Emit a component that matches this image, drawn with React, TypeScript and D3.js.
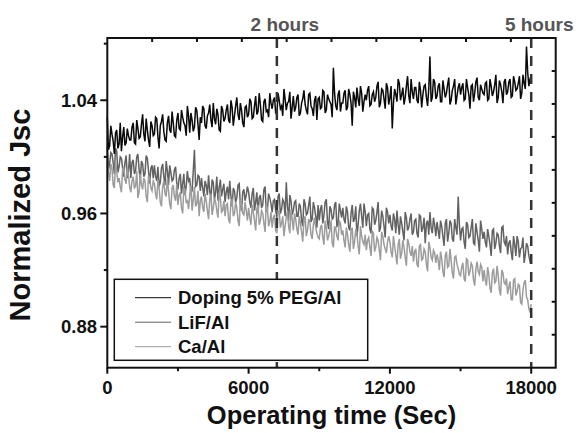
import * as d3 from "d3";

// readings every 100 s (t = 0, 100, ..., 18000)
const TIME_STEP = 100;

const dopingValues = [
  1.028, 1.008, 1.016, 1.002, 1.019, 1.009, 1.004, 1.021, 1.010, 1.015,
  1.012, 1.024, 1.009, 1.020, 1.014, 1.030, 1.011, 1.019, 1.007, 1.022,
  1.016, 1.027, 1.006, 1.025, 1.018, 1.011, 1.029, 1.017, 1.024, 1.014,
  1.031, 1.019, 1.028, 1.022, 1.036, 1.017, 1.026, 1.021, 1.033, 1.012,
  1.024, 1.034, 1.020, 1.031, 1.026, 1.038, 1.023, 1.030, 1.018, 1.033,
  1.027, 1.037, 1.024, 1.035, 1.029, 1.042, 1.026, 1.033, 1.021, 1.036,
  1.030, 1.039, 1.028, 1.043, 1.032, 1.037, 1.025, 1.041, 1.033, 1.045,
  1.034, 1.042, 1.030, 1.040, 1.036, 1.048, 1.033, 1.039, 1.027, 1.043,
  1.035, 1.044, 1.031, 1.041, 1.037, 1.030, 1.045, 1.034, 1.040, 1.026,
  1.042, 1.035, 1.046, 1.033, 1.041, 1.037, 1.063, 1.036, 1.044, 1.032,
  1.038, 1.047, 1.035, 1.044, 1.022, 1.042, 1.049, 1.036, 1.045, 1.039,
  1.040, 1.050, 1.037, 1.046, 1.042, 1.053, 1.038, 1.047, 1.034, 1.049,
  1.042, 1.020, 1.048, 1.039, 1.052, 1.044, 1.037, 1.050, 1.043, 1.055,
  1.041, 1.049, 1.038, 1.047, 1.044, 1.051, 1.036, 1.071, 1.042, 1.053,
  1.043, 1.052, 1.039, 1.048, 1.045, 1.056, 1.040, 1.050, 1.037, 1.049,
  1.044, 1.052, 1.041, 1.049, 1.034, 1.051, 1.045, 1.056, 1.040, 1.048,
  1.044, 1.053, 1.041, 1.050, 1.046, 1.058, 1.042, 1.051, 1.038, 1.055,
  1.046, 1.055, 1.043, 1.053, 1.048, 1.057, 1.045, 1.052, 1.078, 1.050,
  1.054,
];
// readings in between (t = 50, 150, ..., 17950)
const dopingMid = [
  1.005, 1.022, 1.011, 1.017, 1.006, 1.024, 1.014, 1.008, 1.020, 1.012,
  1.021, 1.010, 1.026, 1.013, 1.023, 1.016, 1.027, 1.012, 1.025, 1.015,
  1.028, 1.014, 1.022, 1.030, 1.012, 1.024, 1.019, 1.032, 1.015, 1.026,
  1.020, 1.033, 1.024, 1.015, 1.029, 1.031, 1.018, 1.035, 1.023, 1.028,
  1.036, 1.022, 1.029, 1.037, 1.021, 1.027, 1.034, 1.019, 1.036, 1.025,
  1.033, 1.026, 1.040, 1.022, 1.036, 1.030, 1.038, 1.024, 1.035, 1.028,
  1.041, 1.027, 1.036, 1.030, 1.045, 1.026, 1.039, 1.032, 1.028, 1.038,
  1.040, 1.031, 1.045, 1.034, 1.029, 1.041, 1.038, 1.046, 1.035, 1.032,
  1.042, 1.029, 1.038, 1.047, 1.033, 1.044, 1.036, 1.029, 1.043, 1.041,
  1.034, 1.047, 1.031, 1.044, 1.039, 1.028, 1.045, 1.033, 1.047, 1.038,
  1.045, 1.033, 1.048, 1.038, 1.046, 1.035, 1.041, 1.050, 1.032, 1.044,
  1.047, 1.036, 1.044, 1.039, 1.050, 1.035, 1.048, 1.041, 1.052, 1.037,
  1.050, 1.038, 1.044, 1.055, 1.040, 1.049, 1.042, 1.057, 1.038, 1.046,
  1.049, 1.040, 1.053, 1.035, 1.050, 1.042, 1.048, 1.039, 1.055, 1.041,
  1.050, 1.039, 1.054, 1.042, 1.051, 1.037, 1.047, 1.055, 1.043, 1.052,
  1.049, 1.040, 1.055, 1.044, 1.050, 1.039, 1.053, 1.042, 1.051, 1.045,
  1.052, 1.040, 1.055, 1.043, 1.051, 1.038, 1.054, 1.046, 1.053, 1.044,
  1.053, 1.042, 1.057, 1.047, 1.052, 1.041, 1.058, 1.048, 1.060, 1.055,
];

const lifValues = [
  1.007, 0.995, 1.002, 0.988, 1.004, 0.993, 0.999, 0.986, 1.001, 0.990,
  0.985, 0.998, 0.990, 1.002, 0.984, 0.995, 0.988, 0.999, 0.981, 0.994,
  0.994, 0.983, 0.979, 0.992, 0.986, 0.997, 0.980, 0.989, 0.984, 0.993,
  0.977, 0.988, 0.981, 0.973, 0.990, 0.985, 0.976, 1.005, 0.980, 0.986,
  0.985, 0.972, 0.980, 0.987, 0.970, 0.982, 0.975, 0.969, 0.984, 0.977,
  0.968, 0.979, 0.983, 0.965, 0.976, 0.971, 0.981, 0.962, 0.977, 0.973,
  0.975, 0.964, 0.978, 0.968, 0.960, 0.973, 0.966, 0.979, 0.963, 0.971,
  0.961, 0.970, 0.957, 0.974, 0.963, 0.968, 0.982, 0.955, 0.969, 0.962,
  0.969, 0.958, 0.965, 0.951, 0.967, 0.960, 0.972, 0.956, 0.964, 0.950,
  0.955, 0.966, 0.959, 0.970, 0.949, 0.963, 0.957, 0.968, 0.952, 0.962,
  0.964, 0.953, 0.961, 0.948, 0.966, 0.956, 0.944, 0.962, 0.958, 0.967,
  0.951, 0.960, 0.946, 0.963, 0.955, 0.968, 0.950, 0.958, 0.943, 0.961,
  0.959, 0.948, 0.956, 0.962, 0.945, 0.953, 0.941, 0.957, 0.950, 0.960,
  0.947, 0.956, 0.943, 0.958, 0.950, 0.939, 0.955, 0.961, 0.946, 0.952,
  0.954, 0.942, 0.951, 0.937, 0.956, 0.946, 0.953, 0.940, 0.950, 0.972,
  0.941, 0.950, 0.935, 0.952, 0.944, 0.956, 0.938, 0.947, 0.933, 0.949,
  0.947, 0.936, 0.944, 0.930, 0.949, 0.939, 0.945, 0.932, 0.951, 0.938,
  0.931, 0.941, 0.927, 0.938, 0.944, 0.929, 0.936, 0.925, 0.939, 0.930,
  0.928,
];
const lifMid = [
  0.991, 1.003, 0.996, 1.006, 0.989, 1.000, 0.992, 0.996, 0.985, 1.002,
  0.996, 0.988, 1.000, 0.991, 0.997, 0.986, 1.001, 0.990, 0.992, 0.985,
  0.986, 0.993, 0.982, 0.995, 0.980, 0.990, 0.994, 0.983, 0.991, 0.981,
  0.985, 0.974, 0.988, 0.979, 0.983, 0.974, 0.990, 0.979, 0.987, 0.976,
  0.978, 0.983, 0.973, 0.976, 0.984, 0.970, 0.986, 0.978, 0.972, 0.981,
  0.975, 0.970, 0.972, 0.978, 0.968, 0.980, 0.966, 0.975, 0.969, 0.979,
  0.968, 0.974, 0.962, 0.975, 0.971, 0.964, 0.977, 0.961, 0.974, 0.967,
  0.969, 0.962, 0.972, 0.960, 0.970, 0.958, 0.965, 0.973, 0.959, 0.968,
  0.958, 0.967, 0.955, 0.970, 0.959, 0.966, 0.954, 0.968, 0.958, 0.966,
  0.963, 0.953, 0.968, 0.954, 0.965, 0.956, 0.966, 0.951, 0.967, 0.957,
  0.956, 0.965, 0.950, 0.960, 0.954, 0.965, 0.952, 0.967, 0.950, 0.961,
  0.959, 0.949, 0.964, 0.952, 0.961, 0.947, 0.962, 0.951, 0.964, 0.953,
  0.951, 0.960, 0.946, 0.952, 0.958, 0.947, 0.961, 0.948, 0.956, 0.945,
  0.955, 0.946, 0.959, 0.947, 0.957, 0.953, 0.945, 0.950, 0.957, 0.944,
  0.948, 0.955, 0.944, 0.953, 0.940, 0.955, 0.942, 0.956, 0.945, 0.952,
  0.949, 0.940, 0.954, 0.943, 0.950, 0.939, 0.953, 0.941, 0.955, 0.942,
  0.940, 0.949, 0.938, 0.948, 0.935, 0.946, 0.937, 0.950, 0.940, 0.944,
  0.939, 0.933, 0.944, 0.930, 0.940, 0.935, 0.943, 0.931, 0.937, 0.926,
];

const caValues = [
  0.996, 0.983, 0.992, 0.978, 0.990, 0.985, 0.975, 0.993, 0.981, 0.987,
  0.975, 0.986, 0.979, 0.971, 0.988, 0.977, 0.983, 0.968, 0.985, 0.976,
  0.981, 0.970, 0.978, 0.965, 0.983, 0.972, 0.976, 0.963, 0.980, 0.969,
  0.966, 0.975, 0.960, 0.977, 0.969, 0.973, 0.962, 0.979, 0.967, 0.958,
  0.972, 0.961, 0.969, 0.956, 0.974, 0.964, 0.968, 0.957, 0.971, 0.962,
  0.958, 0.967, 0.953, 0.970, 0.960, 0.964, 0.951, 0.966, 0.959, 0.962,
  0.964, 0.952, 0.961, 0.948, 0.966, 0.955, 0.960, 0.947, 0.963, 0.954,
  0.950, 0.959, 0.946, 0.962, 0.953, 0.944, 0.957, 0.951, 0.963, 0.948,
  0.956, 0.945, 0.953, 0.940, 0.958, 0.948, 0.954, 0.942, 0.957, 0.946,
  0.942, 0.952, 0.938, 0.950, 0.944, 0.955, 0.936, 0.949, 0.941, 0.953,
  0.948, 0.936, 0.945, 0.933, 0.950, 0.940, 0.946, 0.931, 0.944, 0.938,
  0.934, 0.943, 0.930, 0.946, 0.936, 0.941, 0.927, 0.944, 0.935, 0.940,
  0.940, 0.929, 0.937, 0.924, 0.942, 0.932, 0.936, 0.923, 0.939, 0.930,
  0.926, 0.935, 0.922, 0.938, 0.928, 0.933, 0.919, 0.936, 0.927, 0.932,
  0.931, 0.920, 0.928, 0.915, 0.933, 0.923, 0.927, 0.914, 0.930, 0.921,
  0.916, 0.925, 0.912, 0.927, 0.919, 0.923, 0.909, 0.926, 0.917, 0.922,
  0.920, 0.909, 0.917, 0.904, 0.921, 0.912, 0.916, 0.902, 0.918, 0.910,
  0.903, 0.912, 0.899, 0.914, 0.905, 0.909, 0.896, 0.911, 0.901, 0.893,
  0.896,
];
const caMid = [
  0.989, 0.995, 0.980, 0.996, 0.982, 0.979, 0.991, 0.984, 0.993, 0.979,
  0.983, 0.978, 0.990, 0.975, 0.980, 0.985, 0.972, 0.987, 0.978, 0.983,
  0.974, 0.984, 0.968, 0.979, 0.974, 0.985, 0.967, 0.978, 0.972, 0.981,
  0.973, 0.964, 0.978, 0.968, 0.963, 0.980, 0.970, 0.965, 0.976, 0.969,
  0.964, 0.974, 0.962, 0.970, 0.959, 0.971, 0.962, 0.975, 0.961, 0.969,
  0.966, 0.956, 0.969, 0.958, 0.968, 0.955, 0.970, 0.960, 0.968, 0.955,
  0.957, 0.966, 0.955, 0.963, 0.952, 0.962, 0.953, 0.967, 0.951, 0.961,
  0.957, 0.948, 0.961, 0.950, 0.958, 0.951, 0.962, 0.946, 0.956, 0.960,
  0.949, 0.958, 0.947, 0.955, 0.944, 0.956, 0.945, 0.952, 0.950, 0.943,
  0.950, 0.943, 0.955, 0.941, 0.948, 0.939, 0.951, 0.944, 0.955, 0.945,
  0.941, 0.950, 0.938, 0.947, 0.935, 0.949, 0.937, 0.951, 0.940, 0.945,
  0.941, 0.936, 0.948, 0.933, 0.943, 0.934, 0.947, 0.938, 0.932, 0.944,
  0.933, 0.944, 0.931, 0.938, 0.928, 0.941, 0.929, 0.942, 0.933, 0.937,
  0.933, 0.924, 0.937, 0.927, 0.935, 0.924, 0.940, 0.929, 0.934, 0.925,
  0.927, 0.933, 0.919, 0.930, 0.922, 0.935, 0.918, 0.929, 0.924, 0.917,
  0.922, 0.914, 0.928, 0.916, 0.925, 0.913, 0.921, 0.919, 0.924, 0.912,
  0.913, 0.922, 0.907, 0.918, 0.911, 0.923, 0.906, 0.920, 0.911, 0.914,
  0.908, 0.899, 0.913, 0.902, 0.910, 0.897, 0.906, 0.913, 0.899, 0.890,
];

const seriesNames = ["Doping 5% PEG/Al", "LiF/Al", "Ca/Al"];
const seriesColors = ["#0a0a0a", "#626262", "#9c9c9c"];

const xMajorTicks = [0, 6000, 12000, 18000];
const xMinorTicks = [3000, 9000, 15000];
const yMajorTicks = [0.88, 0.96, 1.04];
const yMinorTicks = [0.92, 1.0, 1.08];

const markers = [
  { t: 7200, label: "2 hours" },
  { t: 18000, label: "5 hours" },
];

const W = 577;
const H = 433;
const left = 107.3;
const right = 555.7;
const top = 38;
const bottom = 367.7;

const FONT = "'Liberation Sans', Arial, Helvetica, sans-serif";

type Pt = { t: number; v: number };

// merge the on-step and in-between readings into one time-ordered list
function merge(main: number[], mid: number[]): Pt[] {
  const out: Pt[] = [];
  main.forEach((v, i) => {
    out.push({ t: i * TIME_STEP, v });
    if (i < mid.length) out.push({ t: i * TIME_STEP + TIME_STEP / 2, v: mid[i] });
  });
  return out;
}

export default function App() {
  const x = d3.scaleLinear().domain([0, 19040]).range([left, right]);
  const y = d3.scaleLinear().domain([0.851, 1.084]).range([bottom, top]);

  const allSeries = [
    merge(dopingValues, dopingMid),
    merge(lifValues, lifMid),
    merge(caValues, caMid),
  ];
  const line = d3
    .line<Pt>()
    .x((d) => x(d.t))
    .y((d) => y(d.v));

  // LiF first, Ca over it, doping on top
  const order = [1, 2, 0];

  const topTicks = d3.range(1, 10).map((i) => left + ((right - left) * i) / 10);
  const rightTicks = d3.range(1, 10).map((i) => top + ((bottom - top) * i) / 10);

  const legendX = 114.3;
  const legendY = 279.3;
  const rowY = [297.7, 322.2, 346.7];

  return (
    <svg
      width={W}
      height={H}
      style={{ position: "absolute", left: 0, top: 0, background: "#fff" }}
      fontFamily={FONT}
      fontWeight="bold"
    >
      <rect x={0} y={0} width={W} height={H} fill="#fff" />

      {order.map((k) => (
        <path
          key={seriesNames[k]}
          d={line(allSeries[k]) || ""}
          fill="none"
          stroke={seriesColors[k]}
          strokeWidth={1.5}
        />
      ))}

      {markers.map((m) => (
        <g key={m.label}>
          <line
            x1={x(m.t)}
            x2={x(m.t)}
            y1={top}
            y2={bottom}
            stroke="#333"
            strokeWidth={2.5}
            strokeDasharray="10,8"
          />
          <text x={x(m.t) + 8} y={31} textAnchor="middle" fontSize={19} fill="#555">
            {m.label}
          </text>
        </g>
      ))}

      {/* frame */}
      <rect
        x={left}
        y={top}
        width={right - left}
        height={bottom - top}
        fill="none"
        stroke="#111"
        strokeWidth={2}
      />

      {/* bottom axis */}
      {xMajorTicks.map((t) => (
        <g key={"xm" + t}>
          <line x1={x(t)} x2={x(t)} y1={bottom} y2={bottom + 6} stroke="#111" strokeWidth={2} />
          <text x={x(t)} y={394} textAnchor="middle" fontSize={18.5} fill="#111">
            {t}
          </text>
        </g>
      ))}
      {xMinorTicks.map((t) => (
        <line key={"xn" + t} x1={x(t)} x2={x(t)} y1={bottom} y2={bottom + 3.5} stroke="#111" strokeWidth={2} />
      ))}

      {/* left axis */}
      {yMajorTicks.map((v) => (
        <g key={"ym" + v}>
          <line x1={left - 7} x2={left} y1={y(v)} y2={y(v)} stroke="#111" strokeWidth={2} />
          <text x={97} y={y(v)} dy="0.36em" textAnchor="end" fontSize={18.5} fill="#111">
            {v.toFixed(2)}
          </text>
        </g>
      ))}
      {yMinorTicks.map((v) => (
        <line key={"yn" + v} x1={left - 3.5} x2={left} y1={y(v)} y2={y(v)} stroke="#111" strokeWidth={2} />
      ))}

      {/* top and right inner ticks */}
      {topTicks.map((px, i) => (
        <line key={"tt" + i} x1={px} x2={px} y1={top} y2={top + 4} stroke="#111" strokeWidth={2} />
      ))}
      {rightTicks.map((py, i) => (
        <line key={"rt" + i} x1={right - 4} x2={right} y1={py} y2={py} stroke="#111" strokeWidth={2} />
      ))}

      {/* axis titles */}
      <text x={331.5} y={424} textAnchor="middle" fontSize={25.5} fill="#111">
        Operating time (Sec)
      </text>
      <text
        transform={`translate(30,215) rotate(-90)`}
        textAnchor="middle"
        fontSize={29}
        fill="#111"
      >
        Normalized Jsc
      </text>

      {/* legend */}
      <rect
        x={legendX}
        y={legendY}
        width={253.4}
        height={81}
        fill="#fff"
        stroke="#111"
        strokeWidth={1.5}
      />
      {seriesNames.map((name, i) => (
        <g key={name}>
          <line x1={135} x2={171} y1={rowY[i]} y2={rowY[i]} stroke={seriesColors[i]} strokeWidth={1} />
          <text x={178} y={rowY[i]} dy="0.36em" fontSize={18.5} fill="#111">
            {name}
          </text>
        </g>
      ))}
    </svg>
  );
}
